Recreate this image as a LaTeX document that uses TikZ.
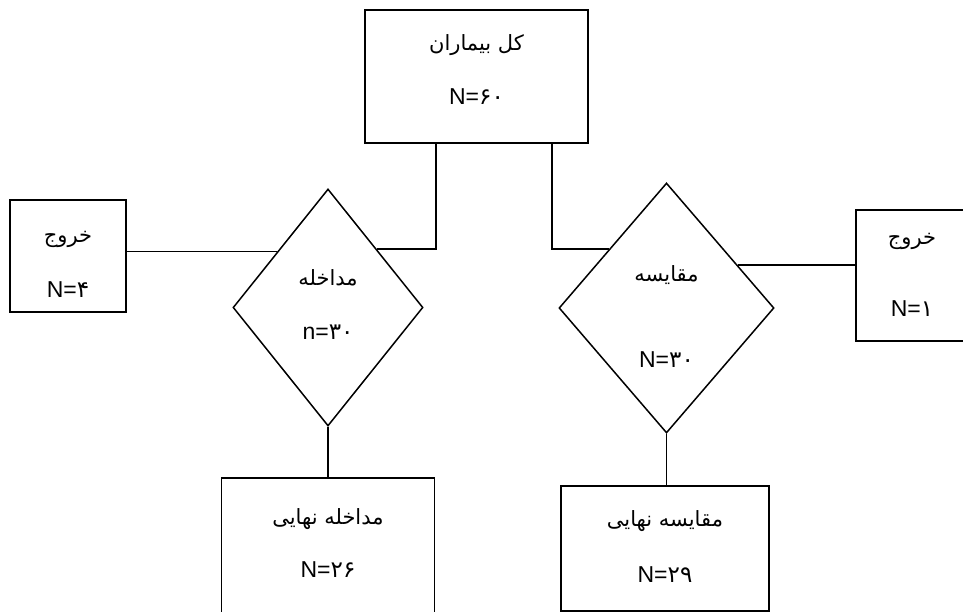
\documentclass[tikz,border=0pt]{standalone}
\usepackage{fontspec}
\setmainfont{Liberation Sans}
\newfontfamily\farsi[Script=Arabic]{DejaVu Sans}
\TeXXeTstate=1
\usetikzlibrary{positioning, shapes.geometric, calc}
\tikzset{
    box/.style={draw, rectangle, line width=1.5pt, inner sep=0pt}, % riquadri
    rombo/.style={draw, diamond, line width=1.5pt, inner sep=0pt}, % gruppi
    testo/.style={inner sep=0pt, font=\fontsize{23}{27}\selectfont}, % scritte
}
\newcommand{\fa}[1]{{\fontsize{21}{25}\selectfont\farsi\beginR #1\endR}}

\begin{document}
\begin{tikzpicture}[x=1pt, y=1pt, on grid, line width=1.5pt]
        \useasboundingbox (0,0) rectangle (963,612);

        % Nodi
        \node[box, minimum width=223pt, minimum height=133pt] (tot) at (476.5,535.5) {};
        \node[rombo, minimum width=190pt, minimum height=237pt] (int) [below left=231pt and 148.5pt of tot] {};
        \node[rombo, minimum width=215pt, minimum height=250pt] (cmp) [below right=231.5pt and 190pt of tot] {};
        \node[box, minimum width=116pt, minimum height=112pt] (outI) [above left=51.5pt and 260pt of int] {};
        \node[box, minimum width=112pt, minimum height=131pt] (outC) [above right=32.5pt and 245.5pt of cmp] {};
        \node[box, minimum width=213pt, minimum height=140pt] (finI) [below=240.5pt of int] {};
        \node[box, minimum width=208pt, minimum height=125pt] (finC) [below left=240.5pt and 1.5pt of cmp] {};

        % Testi
        \node[testo] (totA) [above=31.5pt of tot] {\fa{کل بیماران}};
        \node[testo] (totN) [below=20.5pt of tot] {N={\farsi ۶۰}};
        \node[testo] (intA) [above=30pt of int] {\fa{مداخله}};
        \node[testo] (intN) [below=25pt of int] {n={\farsi ۳۰}};
        \node[testo] (cmpA) [above=33pt of cmp] {\fa{مقایسه}};
        \node[testo] (cmpN) [below=52pt of cmp] {N={\farsi ۳۰}};
        \node[testo] (outIA) [above=17pt of outI] {\fa{خروج}};
        \node[testo] (outIN) [below=34pt of outI] {N={\farsi ۴}};
        \node[testo] (outCA) [above=34pt of outC] {\fa{خروج}};
        \node[testo] (outCN) [below=33pt of outC] {N={\farsi ۱}};
        \node[testo] (finIA) [above=29pt of finI] {\fa{مداخله نهایی}};
        \node[testo] (finIN) [below=22pt of finI] {N={\farsi ۲۶}};
        \node[testo] (finCA) [above=27pt of finC] {\fa{مقایسه نهایی}};
        \node[testo] (finCN) [below=26pt of finC] {N={\farsi ۲۹}};

        % Collegamenti
        \coordinate (intE) at ($(int.north)!0.51!(int.east)$);
        \coordinate (intW) at ($(int.north)!0.53!(int.west)$);
        \coordinate (cmpW) at ($(cmp.north)!0.53!(cmp.west)$);
        \coordinate (cmpE) at ($(cmp.north)!0.66!(cmp.east)$);
        \draw ([xshift=-40.5pt]tot.south) |- (intE);
        \draw ([xshift=75.5pt]tot.south) |- (cmpW);
        \draw (intW) -- (intW -| outI.east);
        \draw (cmpE) -- (cmpE -| outC.west);
        \draw (int.south) -- (finI.north);
        \draw (cmp.south) -- (cmp.south |- finC.north);
\end{tikzpicture}
\end{document}
